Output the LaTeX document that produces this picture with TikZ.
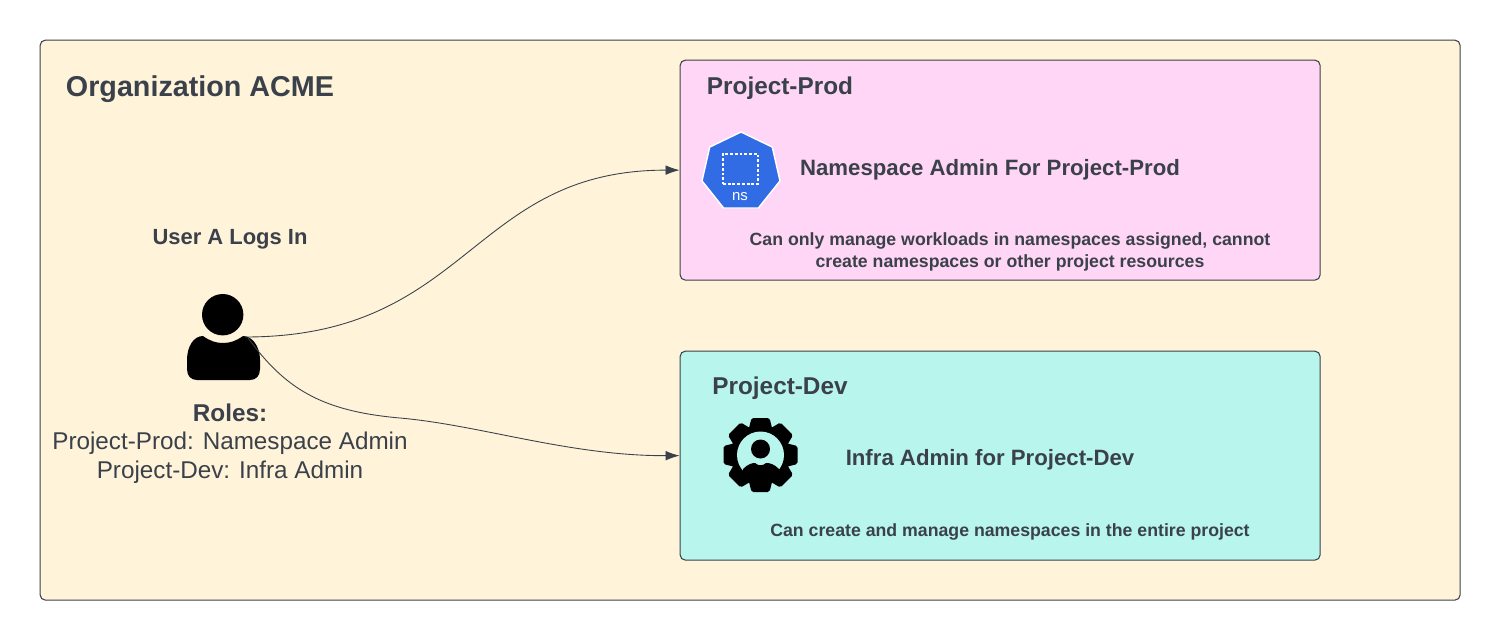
\documentclass[tikz,border=0pt]{standalone}
\usepackage{fontspec}
\setmainfont{Liberation Sans}
\usetikzlibrary{arrows.meta, shapes.geometric}

\definecolor{inkgray}{HTML}{3A414A}
\definecolor{orgfill}{HTML}{FFF3D9}
\definecolor{prodfill}{HTML}{FFD6F5}
\definecolor{devfill}{HTML}{B8F5ED}
\definecolor{nsblue}{HTML}{326CE5}

\tikzset{
  box/.style={draw=inkgray, line width=0.6pt, rounded corners=3pt, anchor=north west, inner sep=0pt},
  heading/.style={text=inkgray, font=\bfseries\fontsize{#1}{#1}\selectfont},
  link/.style={draw=inkgray, line width=0.5pt, -{Latex[length=8pt,width=5.5pt]}}
}

\begin{document}
\begin{tikzpicture}[x=0.02cm, y=-0.02cm]
\useasboundingbox (0,0) rectangle (1500,640);

%Organization
\node[box, fill=orgfill, minimum width=1420*0.02cm, minimum height=560*0.02cm] (org) at (39.6,39.6) {};
\node[heading=16.35] (orgname) at (200,89) {Organization ACME};

%Project-Prod
\node[box, fill=prodfill, minimum width=640*0.02cm, minimum height=220*0.02cm] (prod) at (679.6,59.6) {};
\node[heading=13.85] (prodname) at (780,88) {Project-Prod};
\node[heading=12.63] (prodrole) at (990,169.5) {Namespace Admin For Project-Prod};
\node[heading=10.08, align=center] (prodnote) at (1010,252) {Can only manage workloads in namespaces assigned, cannot\\[2.8pt]create namespaces or other project resources};

%% Namespace icon
\node[regular polygon, regular polygon sides=7, fill=nsblue, draw=white, line width=0.8pt, minimum size=80*0.02cm, inner sep=0pt] (nsicon) at (741,172) {};
\node[draw=white, dash pattern=on 1.6pt off 1.1pt, line width=0.7pt, minimum width=35*0.02cm, minimum height=30*0.02cm, inner sep=0pt] (nssquare) at (740.5,169) {};
\node[text=white, font=\fontsize{8.5}{8.5}\selectfont] (nsname) at (740,197) {ns};

%Project-Dev
\node[box, fill=devfill, minimum width=640*0.02cm, minimum height=209*0.02cm] (dev) at (679.6,350.6) {};
\node[heading=13.85] (devname) at (780,388.5) {Project-Dev};
\node[heading=12.63] (devrole) at (990,459.5) {Infra Admin for Project-Dev};
\node[heading=10.08] (devnote) at (1010,532) {Can create and manage namespaces in the entire project};

%% Gear icon
\foreach \a in {0,45,...,315}
\fill[black, rounded corners=1pt, rotate around={\a:(760.5,455)}] (751.5,418) -- (769.5,418) -- (773,432) -- (748,432) -- cycle;
\fill[black] (760.5,455) circle (30);
\fill[devfill] (760.5,455) circle (23.5);
\fill[black] (760.5,449) circle (9.5);
\fill[black] (743,469) .. controls (748,464) and (752,463) .. (755,463) .. controls (758,466) and (763,466) .. (766,463) .. controls (770,463) and (774,464) .. (779,469) -- (779,482) -- (743,482) -- cycle;

%User
\node[heading=12.5] (username) at (230,239) {User A Logs In};
\fill[black] (222.7,314.7) circle (20.7);
\fill[black] (203,336) .. controls (210,341) and (216,343) .. (223,343) .. controls (230,343) and (236,341) .. (243,336) .. controls (252,336) and (260,346) .. (260,360) -- (260,369) .. controls (260,376) and (256,380) .. (250,380) -- (197,380) .. controls (191,380) and (187,376) .. (187,369) -- (187,360) .. controls (187,346) and (194,336) .. (203,336) -- cycle;
\coordinate (userprod) at (245,337);
\coordinate (userdev) at (248,338);

\node[heading=13.85] (rolestitle) at (230,412.5) {Roles:};
\node[text=inkgray, font=\fontsize{13.8}{16.6}\selectfont, align=center] (roles) at (230,458) {Project-Prod: Namespace Admin\\Project-Dev: Infra Admin};

%Logins
\draw[link] (userprod) .. controls (470,337) and (470,170) .. (prod.west);
\draw[link] (userdev) .. controls (285,388) and (320,411) .. (400,418) .. controls (480,425) and (570,456) .. (dev.west);

\end{tikzpicture}
\end{document}
